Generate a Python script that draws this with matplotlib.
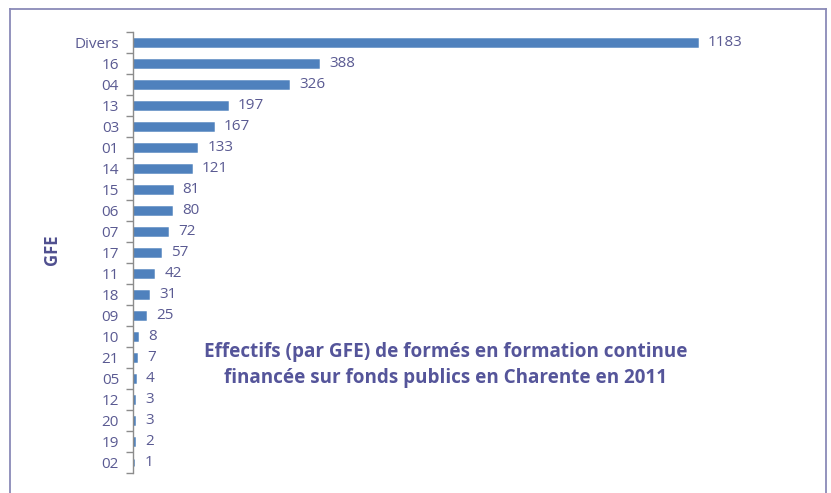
import matplotlib
matplotlib.use("Agg")
import matplotlib.pyplot as plt
from matplotlib.lines import Line2D
import numpy as np

categories = ["Divers", "16", "04", "13", "03", "01", "14", "15", "06", "07", "17",
              "11", "18", "09", "10", "21", "05", "12", "20", "19", "02"]
values = [1183, 388, 326, 197, 167, 133, 121, 81, 80, 72, 57, 42, 31, 25, 8, 7, 4, 3, 3, 2, 1]
title_lines = ["Effectifs (par GFE) de formés en formation continue",
               "financée sur fonds publics en Charente en 2011"]
y_label = "GFE"

plt.rcParams['font.family'] = ['Open Sans', 'DejaVu Sans']

W, H = 831, 493
fig = plt.figure(figsize=(W / 100, H / 100), dpi=100)
fig.patch.set_facecolor("white")

left, right, top, bottom = 133, 800, 32, 473
ax = fig.add_axes([left / W, 1 - bottom / H, (right - left) / W, (bottom - top) / H])

n = len(categories)
y = np.arange(n)
bar_color = "#4f81bd"
text_col = "#5a5a92"
ax.barh(y, values, height=0.32, color=bar_color, edgecolor=bar_color, linewidth=1.8)
ax.set_ylim(n - 0.5, -0.5)
ax.set_xlim(0, 1183 * (right - left) / 564)

for yi, v in zip(y, values):
    ax.annotate(str(v), xy=(v, yi), xytext=(8, 0), textcoords="offset points",
                va="center", ha="left", fontsize=11, color=text_col)

ax.set_yticks(y)
ax.set_yticklabels(categories, fontsize=11, color=text_col)
ax.set_yticks(np.arange(n + 1) - 0.5, minor=True)
ax.tick_params(axis="y", which="major", length=0, pad=10)
ax.tick_params(axis="y", which="minor", length=5, width=1, color="#8c8c8c", direction="out")
ax.set_xticks([])
for s in ["top", "right", "bottom"]:
    ax.spines[s].set_visible(False)
ax.spines["left"].set_color("#8c8c8c")
ax.spines["left"].set_linewidth(1)

fig.text(52 / W, 1 - 250 / H, y_label, rotation=90, ha="center", va="center",
         fontsize=12, fontweight="bold", color="#4f4f8f")
fig.text(446 / W, 1 - 352 / H, title_lines[0], ha="center", va="center",
         fontsize=13.6, fontweight="bold", color="#55559a")
fig.text(446 / W, 1 - 378 / H, title_lines[1], ha="center", va="center",
         fontsize=13.6, fontweight="bold", color="#55559a")

# outer frame (left, top, right edges)
fc = "#8a8ab8"
x0, x1, y0 = 9.5 / W, 826 / W, 1 - 8.5 / H
fig.add_artist(Line2D([x0, x0], [0, y0], transform=fig.transFigure, color=fc, lw=1.3))
fig.add_artist(Line2D([x0, x1], [y0, y0], transform=fig.transFigure, color=fc, lw=1.3))
fig.add_artist(Line2D([x1, x1], [0, y0], transform=fig.transFigure, color=fc, lw=1.3))

fig.savefig("out.png", dpi=100)
